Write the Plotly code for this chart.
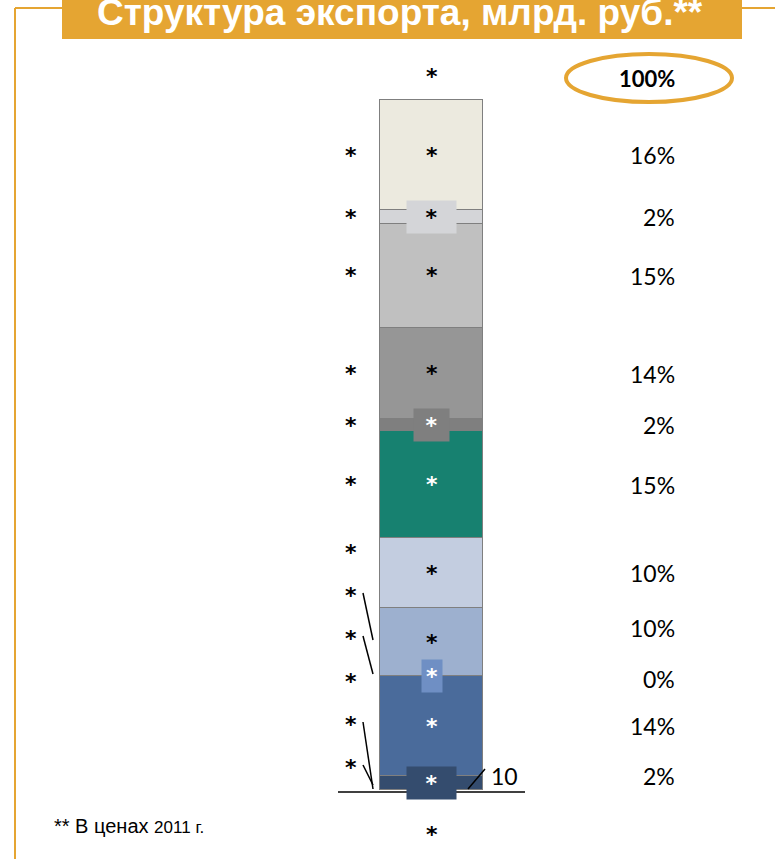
import plotly.graph_objects as go

# Segments bottom -> top (names are hidden in the source, shown as "*")
segment_names = ['*'] * 11
shares = [2.0, 14.5, 0.0, 9.9, 10.1, 15.5, 1.7, 13.3, 15.0, 2.0, 16.0]
pct_labels = ['2%', '14%', '0%', '10%', '10%', '15%', '2%', '14%', '15%', '2%', '16%']
value_labels = ['*'] * 11
total_label = '100%'
total_value = '*'
base_value = '10'
bottom_label = '*'
left_extra = ['*'] * 6
title = 'Структура экспорта, млрд. руб.**'
footnote = '** В ценах <span style="font-size:17px">2011 г.</span>'

colors = ['#344C6E', '#4A6B9B', '#6F8FC4', '#9DB0CF', '#C3CDE0', '#178170',
          '#7F7F7F', '#969696', '#C0C0C0', '#D4D5D8', '#ECEADF']
text_colors = ['white', 'white', 'white', 'black', 'black', 'white',
               'white', 'black', 'black', 'black', 'black']
box_width = {0: 49, 2: 20, 6: 35, 9: 49}
pct_shift = {0: 7, 2: -3, 3: 14}

ORANGE = '#E5A532'
W, H = 775, 859
BAR_X, BAR_W = 431.5, 103
Y0_PX, PX_PER_UNIT = 790, 6.9
FONT = 'Lato'
STAR = dict(family='DejaVu Sans', size=22, weight='bold')

fig = go.Figure()

for i, (name, v) in enumerate(zip(segment_names, shares)):
    fig.add_trace(go.Bar(
        x=[BAR_X], y=[v], width=BAR_W, name=name,
        marker=dict(color=colors[i], line=dict(color='#7F7F7F', width=1)),
        hoverinfo='skip', showlegend=False
    ))

annotations = []
shapes = []

# labels from the data
cum = 0
centers = []
for i, v in enumerate(shares):
    centers.append(cum + v / 2)
    cum += v

for i, c in enumerate(centers):
    a = dict(x=BAR_X, y=c, xref='x', yref='y', text=value_labels[i], showarrow=False,
             font=dict(STAR, color=text_colors[i]), borderpad=0)
    if i in box_width:
        a.update(bgcolor=colors[i], width=box_width[i], height=32)
    annotations.append(a)
    annotations.append(dict(x=677, y=c, xref='x', yref='y', text=pct_labels[i],
                            showarrow=False, xanchor='right', yshift=pct_shift.get(i, 0),
                            font=dict(family=FONT, size=23, color='black')))

# left category labels: top six sit at their segment centres
for i in range(10, 4, -1):
    annotations.append(dict(x=351, y=centers[i], xref='x', yref='y', text=segment_names[i],
                            showarrow=False, font=dict(STAR, color='black')))
# remaining ones are stacked with leader lines (pixel layout)
for k, t in enumerate(left_extra):
    annotations.append(dict(x=351, y=552 + 43 * k, xref='x', yref='y2', text=t,
                            showarrow=False, font=dict(STAR, color='black')))

# total on top, bottom label
annotations.append(dict(x=BAR_X, y=cum, xref='x', yref='y', text=total_value, showarrow=False,
                        yshift=24, font=dict(STAR, color='black')))
annotations.append(dict(x=677, y=78, xref='x', yref='y2', text='<b>' + total_label + '</b>',
                        showarrow=False, xanchor='right',
                        font=dict(family=FONT, size=22, color='black')))
annotations.append(dict(x=BAR_X, y=834, xref='x', yref='y2', text=bottom_label, showarrow=False,
                        font=dict(STAR, color='black')))
annotations.append(dict(x=489, y=776, xref='x', yref='y2', text=base_value, showarrow=False,
                        xanchor='left', font=dict(family=FONT, size=23, color='black')))

# title and footnote
annotations.append(dict(x=400, y=12, xref='x', yref='y2', text='<b>' + title + '</b>',
                        showarrow=False, font=dict(family='Liberation Sans', size=37, color='white')))
annotations.append(dict(x=52, y=826, xref='x', yref='y2', text=footnote, showarrow=False,
                        xanchor='left', font=dict(family='Liberation Sans', size=20, color='black')))

# decorations (pixel layout on y2)
shapes += [
    dict(type='rect', x0=62, x1=742, y0=-10, y1=39, xref='x', yref='y2',
         fillcolor=ORANGE, line=dict(width=0), layer='below'),
    dict(type='line', x0=15, x1=62, y0=8, y1=8, xref='x', yref='y2', line=dict(color=ORANGE, width=2)),
    dict(type='line', x0=742, x1=775, y0=8, y1=8, xref='x', yref='y2', line=dict(color=ORANGE, width=2)),
    dict(type='line', x0=15, x1=15, y0=8, y1=870, xref='x', yref='y2', line=dict(color=ORANGE, width=2)),
    dict(type='circle', x0=566, x1=732, y0=54, y1=102, xref='x', yref='y2',
         line=dict(color=ORANGE, width=4)),
    dict(type='line', x0=338, x1=525, y0=792, y1=792, xref='x', yref='y2',
         line=dict(color='black', width=1.5)),
]
leaders = [((363, 593), (373, 640)), ((363, 636), (373, 674)),
           ((363, 722), (373, 789)), ((363, 765), (373, 785)),
           ((468, 789), (485, 769))]
for (x0, y0), (x1, y1) in leaders:
    shapes.append(dict(type='line', x0=x0, y0=y0, x1=x1, y1=y1, xref='x', yref='y2',
                       line=dict(color='black', width=1.5)))

fig.update_layout(
    barmode='stack',
    width=W, height=H,
    margin=dict(l=0, r=0, t=0, b=0),
    paper_bgcolor='white', plot_bgcolor='white',
    xaxis=dict(range=[0, W], visible=False, fixedrange=True),
    yaxis=dict(range=[(Y0_PX - H) / PX_PER_UNIT, Y0_PX / PX_PER_UNIT], visible=False, fixedrange=True),
    yaxis2=dict(range=[H, 0], overlaying='y', visible=False, fixedrange=True),
    annotations=annotations,
    shapes=shapes,
    bargap=0,
    hovermode=False,
)

fig.write_html("out.html", config={'displayModeBar': False},
               post_script="document.body.style.margin='0';document.body.style.overflow='hidden';")
